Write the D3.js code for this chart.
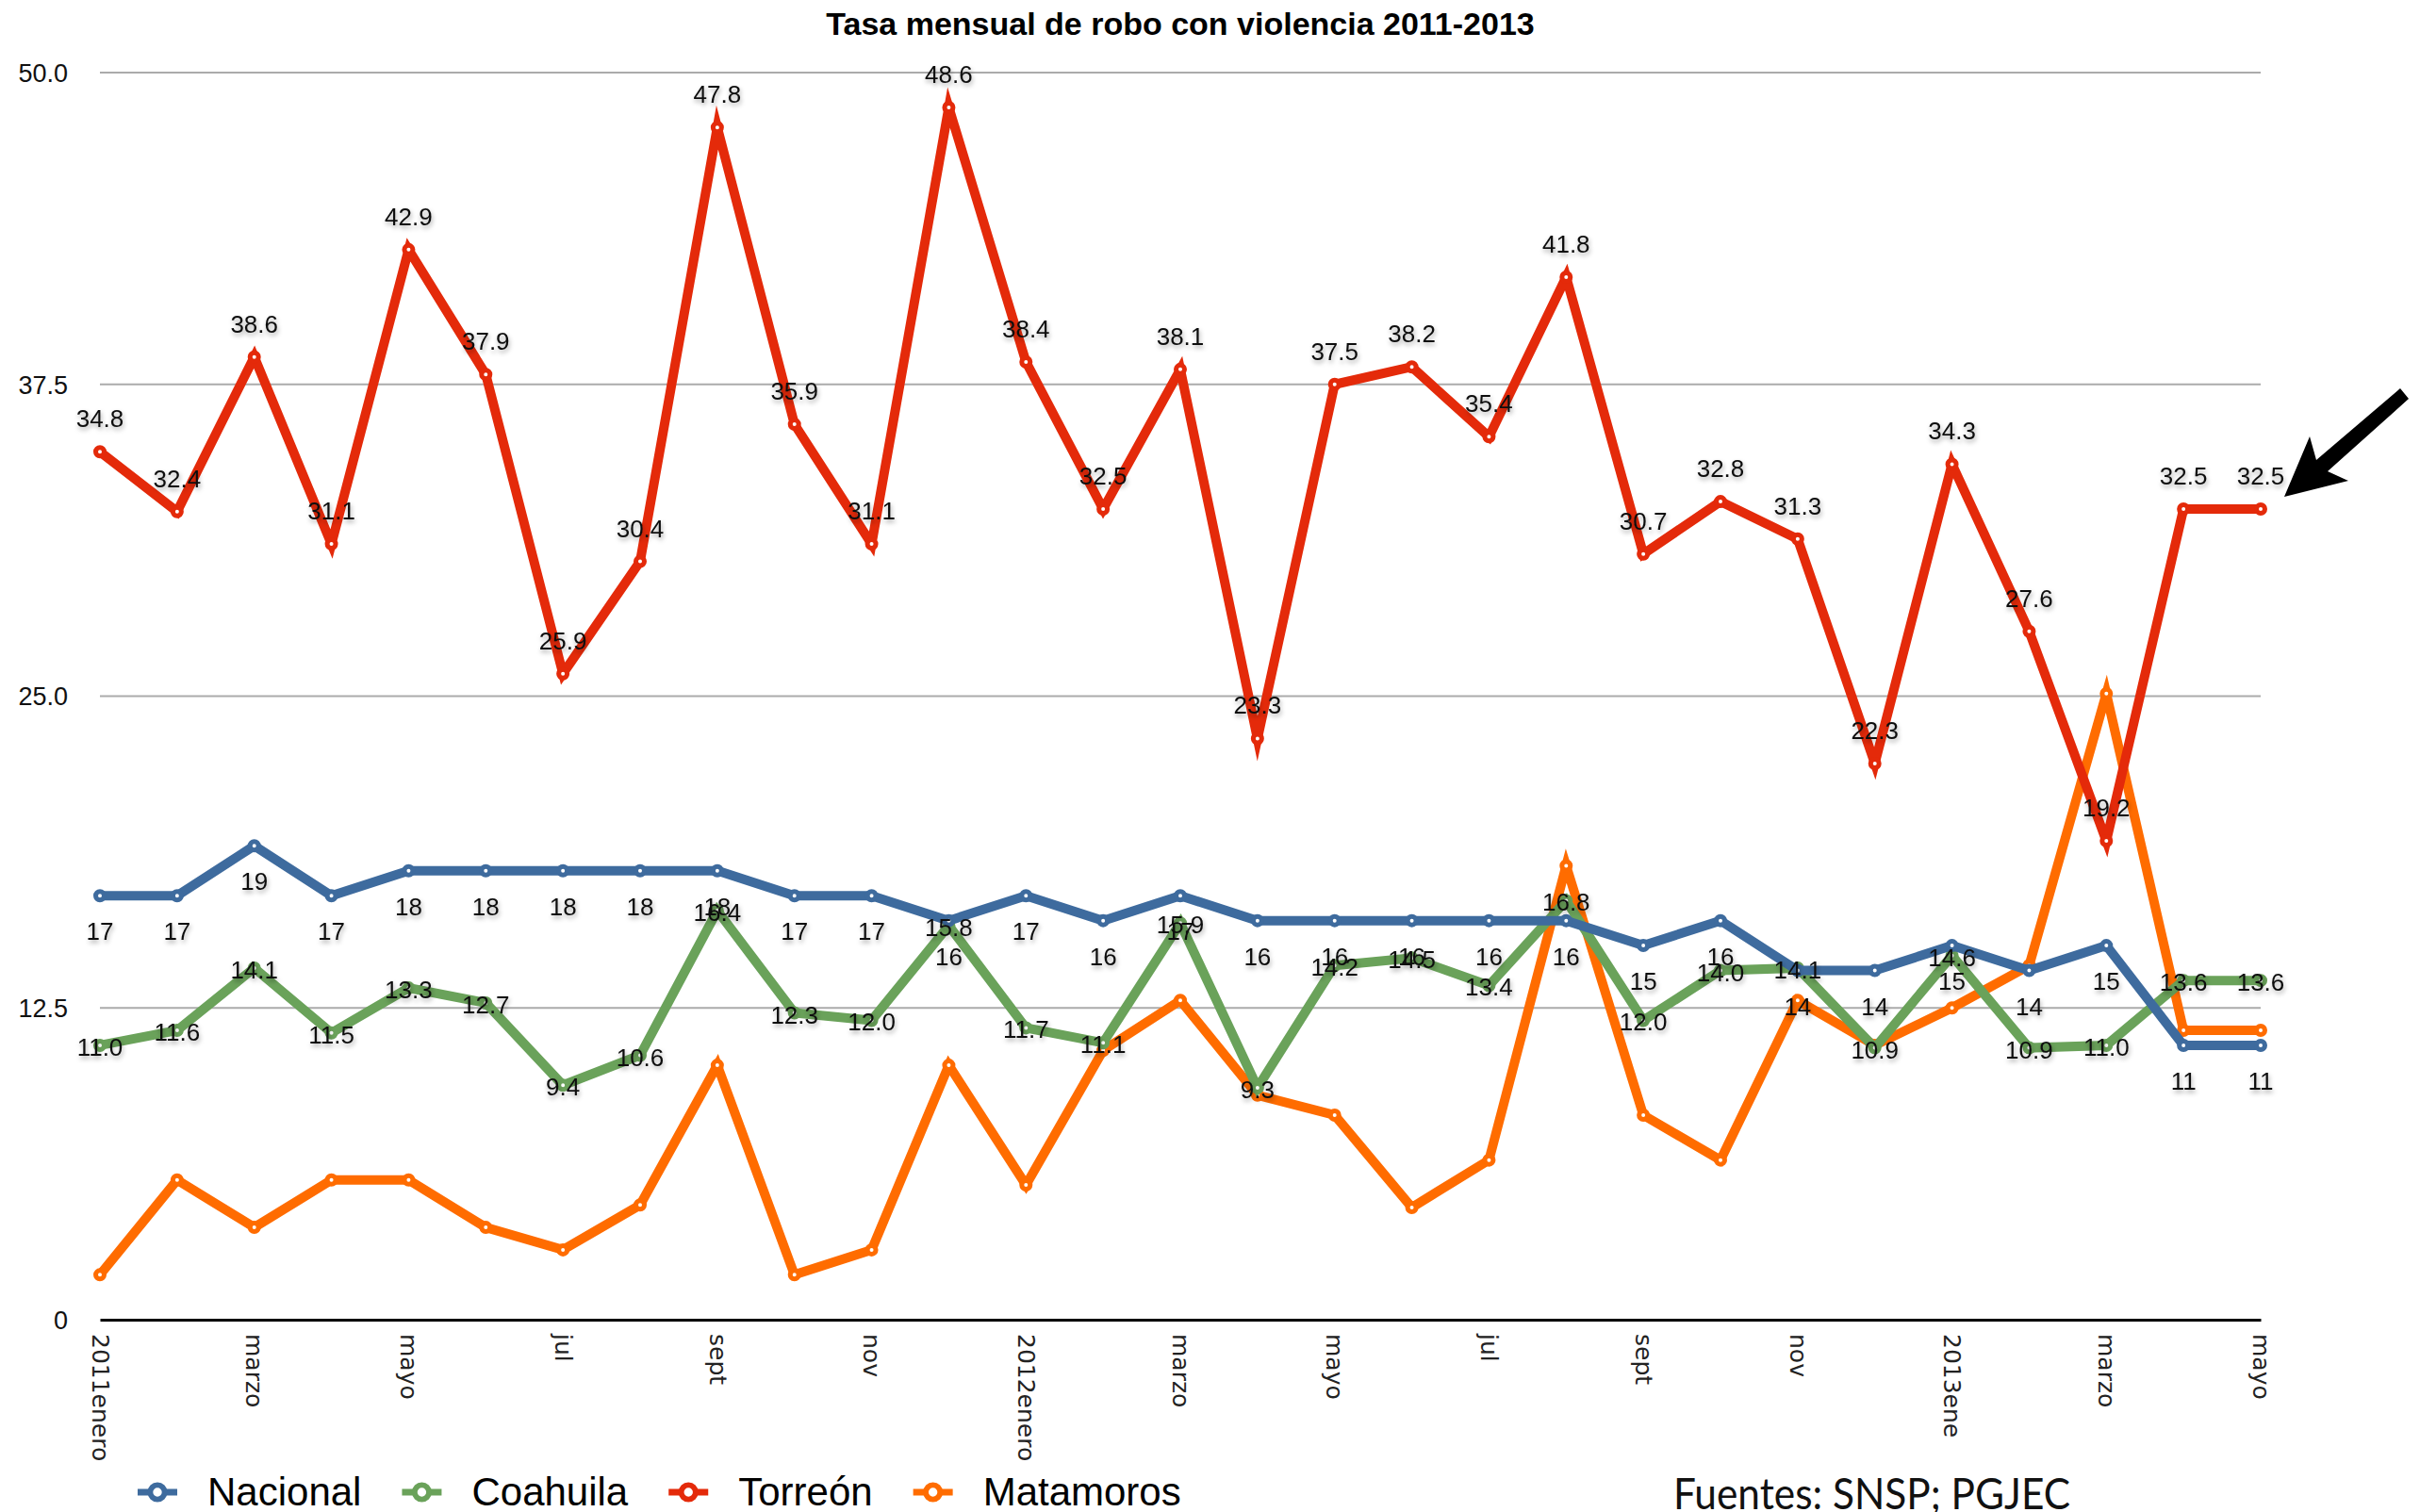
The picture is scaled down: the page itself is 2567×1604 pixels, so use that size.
<!DOCTYPE html>
<html>
<head>
<meta charset="utf-8">
<script src="https://cdn.jsdelivr.net/npm/d3@7/dist/d3.min.js"></script>
<style>
  html, body { margin: 0; padding: 0; background: #fff; }
  svg { display: block; }
</style>
</head>
<body>
<script>
// ---------------- data ----------------
const title = "Tasa mensual de robo con violencia 2011-2013";
const source = "Fuentes: SNSP; PGJEC";
const xTickLabels = ["2011enero","marzo","mayo","jul","sept","nov","2012enero","marzo","mayo","jul","sept","nov","2013ene","marzo","mayo"];
const yTickValues = [0, 12.5, 25, 37.5, 50];
const yTickLabels = ["0", "12.5", "25.0", "37.5", "50.0"];
const seriesNames = ["Nacional", "Coahuila", "Torreón", "Matamoros"];
const seriesColors = ["#3e6b9e", "#6aa25a", "#e42a0a", "#ff6c00"];
const nacional  = [17,17,19,17,18,18,18,18,18,17,17,16,17,16,17,16,16,16,16,16,15,16,14,14,15,14,15,11,11];
const coahuila  = [11.0,11.6,14.1,11.5,13.3,12.7,9.4,10.6,16.4,12.3,12.0,15.8,11.7,11.1,15.9,9.3,14.2,14.5,13.4,16.8,12.0,14.0,14.1,10.9,14.6,10.9,11.0,13.6,13.6];
const torreon   = [34.8,32.4,38.6,31.1,42.9,37.9,25.9,30.4,47.8,35.9,31.1,48.6,38.4,32.5,38.1,23.3,37.5,38.2,35.4,41.8,30.7,32.8,31.3,22.3,34.3,27.6,19.2,32.5,32.5];
const matamoros = [1.8,5.6,3.7,5.6,5.6,3.7,2.8,4.6,10.2,1.8,2.8,10.2,5.4,10.8,12.8,9.0,8.2,4.5,6.4,18.2,8.2,6.4,12.8,11.0,12.5,14.2,25.1,11.6,11.6];
const seriesValues = [nacional, coahuila, torreon, matamoros];
const labelFormats = [d3.format("d"), d3.format(".1f"), d3.format(".1f"), null];

// ---------------- layout ----------------
const W = 2567, H = 1604;
const x = d3.scaleLinear().domain([0, nacional.length - 1]).range([106, 2398]);
const y = d3.scaleLinear().domain([0, 50]).range([1400, 77]);

const svg = d3.select("body").append("svg")
  .attr("width", W).attr("height", H)
  .attr("viewBox", `0 0 ${W} ${H}`);
svg.append("rect").attr("width", W).attr("height", H).attr("fill", "#fff");

const defs = svg.append("defs");
const f = defs.append("filter").attr("id", "shadow")
  .attr("x", "-30%").attr("y", "-40%").attr("width", "160%").attr("height", "200%");
f.append("feDropShadow").attr("dx", 1).attr("dy", 3).attr("stdDeviation", 2.5)
  .attr("flood-color", "#000").attr("flood-opacity", 0.35);

// title
svg.append("text")
  .attr("x", (x.range()[0] + x.range()[1]) / 2).attr("y", 37)
  .attr("text-anchor", "middle")
  .attr("font-family", "'Liberation Sans', Arial, sans-serif")
  .attr("font-weight", "bold").attr("font-size", 34).attr("fill", "#000")
  .text(title);

// gridlines
svg.append("g").selectAll("line")
  .data(yTickValues.filter(v => v > 0))
  .join("line")
  .attr("x1", x.range()[0]).attr("x2", x.range()[1])
  .attr("y1", d => y(d)).attr("y2", d => y(d))
  .attr("stroke", "#ababab").attr("stroke-width", 2.2);

// y axis labels
const yAxis = d3.axisLeft(y).tickValues(yTickValues)
  .tickFormat((d, i) => yTickLabels[i]).tickSize(0).tickPadding(0);
const gy = svg.append("g").attr("transform", "translate(72,0)").call(yAxis);
gy.select(".domain").remove();
gy.selectAll("text")
  .attr("font-family", "'Liberation Sans', Arial, sans-serif")
  .attr("font-size", 27).attr("fill", "#111").attr("dy", "0.35em");

// x axis
const xTickIdx = xTickLabels.map((d, i) => i * 2);
const xAxis = d3.axisBottom(x).tickValues(xTickIdx)
  .tickFormat((d, i) => xTickLabels[i]).tickSize(0).tickPadding(0);
const gx = svg.append("g").attr("transform", `translate(0,${y(0)})`).call(xAxis);
gx.select(".domain").attr("stroke", "#000").attr("stroke-width", 3);
gx.selectAll("text")
  .attr("font-family", "'DejaVu Sans', sans-serif")
  .attr("font-size", 25).attr("fill", "#222")
  .attr("text-anchor", "start")
  .attr("x", 0).attr("y", 0).attr("dy", "0.35em")
  .attr("transform", "translate(0,15) rotate(90)");

// lines (draw last series first, first series on top)
const line = d3.line().x((d, i) => x(i)).y(d => y(d));
const order = [3, 2, 1, 0];
const linesG = svg.append("g");
order.forEach(s => {
  const g = linesG.append("g");
  g.append("path")
    .attr("d", line(seriesValues[s]))
    .attr("fill", "none").attr("stroke", seriesColors[s])
    .attr("stroke-width", 10).attr("stroke-linejoin", "miter")
    .attr("stroke-miterlimit", 10).attr("stroke-linecap", "butt");
  g.selectAll("circle").data(seriesValues[s]).join("circle")
    .attr("cx", (d, i) => x(i)).attr("cy", d => y(d))
    .attr("r", 4.5).attr("fill", "#fff")
    .attr("stroke", seriesColors[s]).attr("stroke-width", 5);
});

// data labels
const labelOffsets = [47, 11, -26, 0];
const labelsG = svg.append("g")
  .attr("font-family", "'Liberation Sans', Arial, sans-serif")
  .attr("font-size", 26).attr("fill", "#111")
  .attr("text-anchor", "middle").attr("filter", "url(#shadow)");
[0, 1, 2].forEach(s => {
  labelsG.append("g").selectAll("text").data(seriesValues[s]).join("text")
    .attr("x", (d, i) => x(i)).attr("y", d => y(d) + labelOffsets[s])
    .text(d => labelFormats[s](d));
});

// arrow annotation pointing at last Torreón value
const lastI = torreon.length - 1;
const ax = x(lastI), ay = y(torreon[lastI]);
const arrowPts = [[25, -13], [52, -77], [59, -52], [148, -128], [157, -117], [71, -40], [93, -30]]
  .map(p => [ax + p[0], ay + p[1]]);
svg.append("path")
  .attr("d", "M" + arrowPts.map(p => p.join(",")).join("L") + "Z")
  .attr("fill", "#000");

// legend
const legend = svg.append("g");
let lx = 167;
const ly = 1583;
seriesNames.forEach((name, s) => {
  const g = legend.append("g").attr("transform", `translate(${lx},${ly})`);
  g.append("line").attr("x1", -21).attr("x2", 21).attr("y1", 0).attr("y2", 0)
    .attr("stroke", seriesColors[s]).attr("stroke-width", 7);
  g.append("circle").attr("r", 7.6).attr("fill", "#fff")
    .attr("stroke", seriesColors[s]).attr("stroke-width", 5.8);
  const t = g.append("text").attr("x", 53).attr("y", 14)
    .attr("font-family", "'Liberation Sans', Arial, sans-serif")
    .attr("font-size", 42).attr("fill", "#000").text(name);
  lx += 53 + t.node().getComputedTextLength() + 64;
});

// source
svg.append("text")
  .attr("x", 1775).attr("y", 1601)
  .attr("font-family", "Lato, 'Open Sans', sans-serif")
  .attr("font-size", 46).attr("fill", "#111")
  .attr("textLength", 421).attr("lengthAdjust", "spacingAndGlyphs")
  .text(source);
</script>
</body>
</html>
